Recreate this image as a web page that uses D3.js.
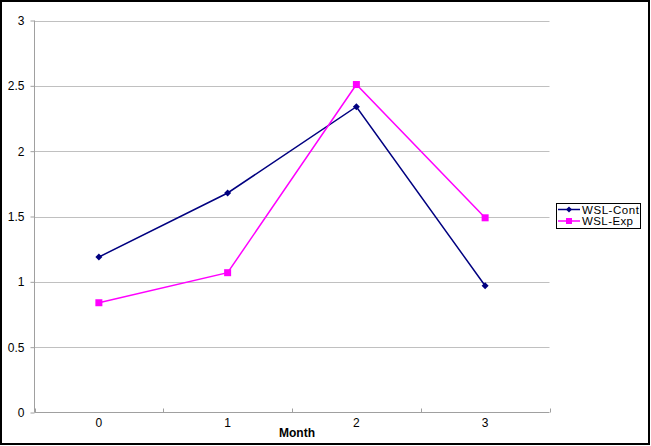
<!DOCTYPE html>
<html><head><meta charset="utf-8">
<script src="https://cdn.jsdelivr.net/npm/d3@7"></script>
<style>body{margin:0;background:#fff}svg{display:block}</style>
</head><body>
<script>
const categories = ["0","1","2","3"];
const contValues = [1.19, 1.68, 2.34, 0.97];
const expValues = [0.84, 1.07, 2.51, 1.49];
const yTicks = [0, 0.5, 1, 1.5, 2, 2.5, 3];
const seriesNames = ["WSL-Cont", "WSL-Exp"];
const seriesColors = ["#000080", "#FF00FF"];

const W = 651, H = 446;
const svg = d3.select("body").append("svg").attr("width", W).attr("height", H);
svg.append("rect").attr("x",1).attr("y",1).attr("width",W-3).attr("height",H-3)
  .attr("fill","#fff").attr("stroke","#000").attr("stroke-width",2);

const L = 34.5, R = 549.5, T = 20.5, B = 412.5;
const x = d3.scaleBand().domain(categories).range([L, R]);
const y = d3.scaleLinear().domain([0, 3]).range([B, T]);
const font = "'Liberation Sans', Arial, sans-serif";

// gridlines
svg.append("g").selectAll("line").data(yTicks.filter(d => d > 0)).join("line")
  .attr("x1", L).attr("x2", R).attr("y1", d => Math.round(y(d)) + 0.5).attr("y2", d => Math.round(y(d)) + 0.5)
  .attr("stroke", "#c0c0c0");

// y axis
const yAxis = svg.append("g").attr("transform", `translate(${L},0)`)
  .call(d3.axisLeft(y).tickValues(yTicks).tickSize(4).tickPadding(6).tickFormat(d3.format("")));
yAxis.select(".domain").attr("stroke", "#a0a0a0").attr("d", `M0,${B}V${T}`);
yAxis.selectAll(".tick line").attr("stroke", "#a0a0a0");
yAxis.selectAll("text").attr("font-family", font).attr("font-size", 12).attr("fill", "#000");

// x axis
const xAxis = svg.append("g").attr("transform", `translate(0,${B})`)
  .call(d3.axisBottom(x).tickSize(0).tickPadding(6));
xAxis.select(".domain").attr("stroke", "#a0a0a0").attr("d", `M${L},0H${R}`);
xAxis.selectAll("text").attr("font-family", font).attr("font-size", 12).attr("fill", "#000");
svg.append("g").selectAll("line").data(categories.concat(["end"])).join("line")
  .attr("x1", (d,i) => Math.round(L + i * x.step()) + 0.5)
  .attr("x2", (d,i) => Math.round(L + i * x.step()) + 0.5)
  .attr("y1", B).attr("y2", B - 4).attr("stroke", "#a0a0a0");

svg.append("text").attr("x", 297).attr("y", 437).attr("text-anchor", "middle")
  .attr("font-family", font).attr("font-size", 12).attr("font-weight", "bold").text("Month");

const cx = d => x(d) + x.bandwidth() / 2;
const line = d3.line().x(d => cx(d.c)).y(d => y(d.v));
const seriesData = [contValues, expValues].map(vals => vals.map((v, i) => ({c: categories[i], v})));

function diamond(g, px, py, color, s) {
  g.append("path").attr("d", `M${px},${py - s}L${px + s},${py}L${px},${py + s}L${px - s},${py}Z`).attr("fill", color);
}
function square(g, px, py, color, s) {
  g.append("rect").attr("x", px - s).attr("y", py - s).attr("width", 2 * s).attr("height", 2 * s).attr("fill", color);
}

seriesData.forEach((data, si) => {
  const g = svg.append("g");
  g.append("path").datum(data).attr("d", line).attr("fill", "none")
    .attr("stroke", seriesColors[si]).attr("stroke-width", 1.5);
  data.forEach(d => {
    if (si === 0) diamond(g, cx(d.c), y(d.v), seriesColors[si], 3.5);
    else square(g, cx(d.c), y(d.v), seriesColors[si], 3.5);
  });
});

// legend
const lg = svg.append("g");
lg.append("rect").attr("x", 556.5).attr("y", 203.5).attr("width", 84).attr("height", 25)
  .attr("fill", "#fff").attr("stroke", "#000").attr("stroke-width", 1);
seriesNames.forEach((n, i) => {
  const yy = 209.5 + i * 11.5;
  lg.append("line").attr("x1", 558).attr("x2", 580).attr("y1", yy).attr("y2", yy)
    .attr("stroke", seriesColors[i]).attr("stroke-width", 1.5);
  if (i === 0) diamond(lg, 569, yy, seriesColors[i], 3);
  else square(lg, 569, yy, seriesColors[i], 3);
  lg.append("text").attr("x", 582).attr("y", yy + 4).attr("font-family", font).attr("font-size", 11.5)
    .attr("textLength", i === 0 ? 57 : 51).text(n);
});
</script>
</body></html>
